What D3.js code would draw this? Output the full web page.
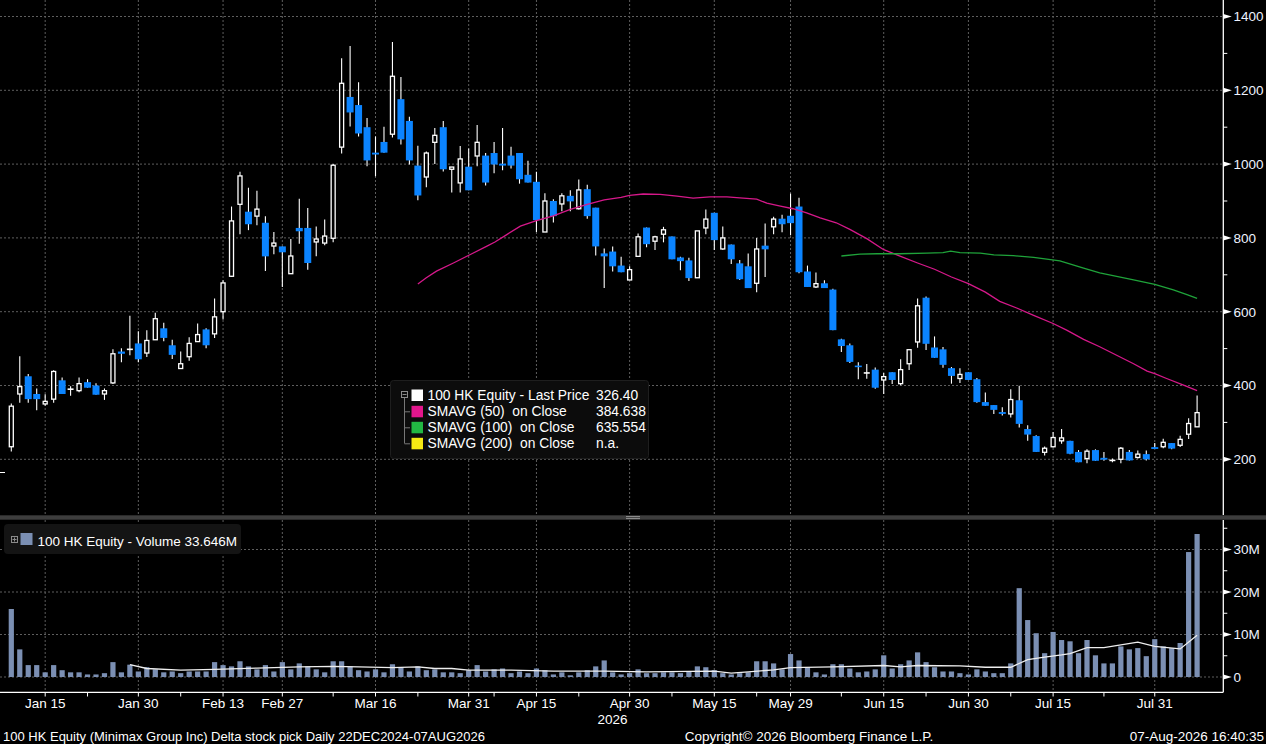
<!DOCTYPE html>
<html>
<head>
<meta charset="utf-8">
<script src="https://cdnjs.cloudflare.com/ajax/libs/d3/7.8.5/d3.min.js"></script>
<style>
body { margin: 0; background: #000; }
svg { display: block; font-family: "Liberation Sans", Arial, sans-serif; }
</style>
</head>
<body>
<svg id="chart" width="1266" height="744"></svg>
<script>
// daily candles, one per trading day (index 0 = first bar on the left)
var opens = [234,377,425,377,350,363,414,390,386,409,400,377,407,492,498,514,488,524,555,509,446,478,519,552,540,600,696,891,871,859,841,778,777,703,827,827,789,
  786,799,1046,1182,1160,1100,1031,1060,1081,1176,1117,996,965,1059,1100,986,949,993,1022,1023,1030,1001,1023,1030,971,952,816,900,892,914,879,932,882,758,763,725,
  686,750,828,791,810,804,747,739,692,827,868,770,782,731,723,677,779,830,852,860,885,709,667,677,
  660,525,509,454,434,443,415,436,405,459,518,638,503,498,447,419,436,417,355,347,328,323,360,282,263,219,234,
  250,250,220,202,225,204,197,200,220,205,214,233,234,244,238,268,288];
var highs = [351,479,431,392,376,441,422,398,422,417,406,392,498,501,589,547,550,597,570,524,492,531,568,555,636,685,885,979,936,928,859,816,777,797,906,881,831,
  850,1000,1287,1320,1222,1125,1075,1101,1331,1236,1128,1050,1034,1098,1117,992,1049,1042,1106,1030,1060,1098,1047,1030,1009,979,921,905,921,929,958,944,882,771,777,749,
  723,812,828,806,830,804,749,746,819,877,868,831,782,740,758,800,839,857,863,920,909,725,706,685,
  662,527,514,463,458,449,434,436,471,497,636,641,533,504,450,447,436,420,381,347,341,390,399,292,265,235,274,
  282,250,225,227,227,220,202,233,225,224,224,244,256,244,264,311,373];
var lows = [221,353,353,333,345,353,377,372,382,394,375,361,404,463,482,463,477,524,520,472,446,467,519,501,529,579,694,810,821,834,710,756,667,703,784,714,750,
  780,788,1029,1102,1075,994,967,1031,1072,1053,999,902,937,1000,980,923,923,929,994,942,975,983,988,947,950,816,816,842,872,872,877,852,752,664,709,707,
  686,750,775,767,788,742,712,683,692,810,767,768,729,686,664,653,694,810,815,807,704,667,664,664,
  550,491,461,417,418,391,377,404,401,442,502,496,475,448,405,407,415,353,345,323,319,313,286,250,220,210,232,
  242,214,192,189,196,196,192,189,197,202,197,228,230,227,233,255,288];
var closes = [344,397,363,363,357,438,377,390,405,394,375,386,486,486,498,471,522,581,529,483,459,514,538,509,586,678,846,968,837,878,750,786,761,751,818,732,797,
  805,997,1219,1140,1083,1010,1026,1031,1238,1067,1010,915,1030,1078,986,992,1014,929,1059,950,999,996,996,959,950,848,900,859,914,899,930,859,777,750,723,707,
  714,803,783,803,822,742,737,691,819,851,794,800,742,688,664,770,769,851,837,840,707,667,676,664,
  550,507,464,450,434,394,424,415,443,497,616,513,475,456,426,430,415,355,345,334,323,362,296,267,220,230,259,
  258,215,192,222,196,199,197,230,197,214,200,228,246,229,254,297,326.4];
// volume in millions
var volumes = [16.0,6.5,2.8,2.8,1.1,2.8,1.6,1.1,1.1,0.6,0.6,0.9,3.5,1.1,2.9,1.3,2.3,1.8,1.1,1.3,0.9,1.3,1.3,1.3,3.5,2.8,2.5,3.7,2.5,1.8,
  2.8,1.3,3.5,1.8,3.2,2.5,1.8,1.1,3.7,3.7,2.5,1.6,1.3,1.8,1.1,3.0,2.3,1.3,2.5,1.6,1.8,1.1,1.1,0.9,1.6,2.8,1.3,1.8,2.0,0.9,
  1.3,0.9,2.0,1.6,0.6,1.1,0.4,1.1,1.6,2.5,3.9,1.1,0.6,0.9,1.8,0.9,0.9,1.1,1.1,0.9,1.3,2.5,2.3,1.6,0.9,0.6,0.9,1.1,3.7,3.7,
  3.2,1.8,5.4,3.9,2.3,1.1,0.6,3.0,3.0,2.0,1.1,1.3,1.8,5.1,2.0,3.0,3.9,5.8,3.5,2.3,1.3,1.3,0.9,0.6,1.8,1.3,0.9,0.9,3.2,20.9,
  13.4,10.3,5.6,10.6,8.7,8.4,5.6,8.7,5.1,3.2,3.2,7.2,6.5,6.8,4.9,8.9,7.2,6.8,8.0,29.4,33.646];

// moving averages (bar index, value)
var sma50Idx = [48,49,50.2,52.2,54.2,56.1,57.1,58.5,60.1,62,64,66,68,70,72,73,74.6,76.6,78.6,80.5,82.5,84.5,86.4,88,89.2,90.8,92.3,93.9,95.5,97.4,99,101,103,105,107,109,111,113,115,116.7,118.7,120.7,123,124.6,126.6,128.5,130.5,132.5,134.1,135,136.4,138.4,140];
var sma50Val = [675,692,710,732,755,777,789,809,832,847,860,877,891,903,910,915,919,918,913,908,911,911,908,905,894,886,879,868,854,841,823,798,768,750,732,715,694,676,653,628,610,590,568,550,525,505,482,459,439,432,419,401,386];
var sma100Idx = [98,100.2,102.2,104.9,108.1,110,110.9,112,114.4,116,118.3,120.7,123.8,126.6,128.5,130.5,132.5,135,137.2,138.8,140];
var sma100Val = [751,756,757,757,759,760,764,760,759,754,752,747,738,718,705,696,686,674,659,646,636];
var volAvgIdx = [14,16,20,24,29,34,38,41,45,48,50,52,54,59,64,70,75,80,83,85,87,90,92,97,103,105,107,112,115,118,120,122,124,125,127,129,133,135,138,140];
var volAvgVal = [2.9,2.0,1.6,1.8,2.1,2.4,2.5,2.4,2.2,2.4,2.0,2.0,1.6,1.6,1.4,1.4,1.2,1.3,1.4,0.9,1.2,1.7,2.2,2.4,2.7,2.4,2.7,2.6,2.3,2.3,4.1,4.7,5.2,5.5,6.9,6.9,8.2,7.2,6.6,9.8];

// axis ticks
var xTickLabels = ["Jan 15","Jan 30","Feb 13","Feb 27","Mar 16","Mar 31","Apr 15","Apr 30","May 15","May 29","Jun 15","Jun 30","Jul 15","Jul 31"];
var xTickIdx = [4,15,25,32,43,54,62,73,83,92,103,113,123,135];
var xMinorIdx = [9,20,38,48,57,67,78,88,98,108,118,129];
var priceTicks = [200,400,600,800,1000,1200,1400];
var priceMinor = [300,500,700,900,1100,1300];
var volTicks = [0,10,20,30];
var volTickLabels = ["0","10M","20M","30M"];
var volMinor = [5,15,25,35];

var legendLabels = ["100 HK Equity - Last Price", "SMAVG (50)  on Close", "SMAVG (100)  on Close", "SMAVG (200)  on Close"];
var legendValues = ["326.40", "384.638", "635.554", "n.a."];
var legendColors = ["#ffffff", "#e3168d", "#22b843", "#f5ea14"];

var UP = "#ffffff", DOWN = "#0b84ff", GRID = "#5e5e5e";
var axisX = 1223.3;

var svg = d3.select("#chart");
svg.append("rect").attr("width", 1266).attr("height", 744).attr("fill", "#000");

var x = d3.scaleLinear().domain([0, 140]).range([11.3, 1197.1]);
var yP = d3.scaleLinear().domain([200, 1400]).range([459.3, 16.5]);
var yV = d3.scaleLinear().domain([0, 30]).range([677, 549.5]);

// grid
var grid = svg.append("g").attr("stroke", GRID).attr("stroke-dasharray", "2,2").attr("stroke-width", 1);
grid.selectAll("line.hp").data(priceTicks).enter().append("line")
    .attr("x1", 0).attr("x2", axisX)
    .attr("y1", function(d) { return yP(d); }).attr("y2", function(d) { return yP(d); });
grid.selectAll("line.hv").data(volTicks).enter().append("line")
    .attr("x1", 0).attr("x2", axisX)
    .attr("y1", function(d) { return yV(d); }).attr("y2", function(d) { return yV(d); });
grid.selectAll("line.vp").data(xTickIdx).enter().append("line")
    .attr("x1", function(d) { return x(d); }).attr("x2", function(d) { return x(d); })
    .attr("y1", 0).attr("y2", 515);
grid.selectAll("line.vv").data(xTickIdx).enter().append("line")
    .attr("x1", function(d) { return x(d); }).attr("x2", function(d) { return x(d); })
    .attr("y1", 520).attr("y2", 692);

// price legend box (under the marks like in the terminal)
var lg = svg.append("g");
lg.append("rect").attr("x", 390.5).attr("y", 380.5).attr("width", 258).attr("height", 78)
    .attr("rx", 3).attr("fill", "#0c0c0c").attr("stroke", "#1e1e1e");

// candles
var bars = d3.range(opens.length).map(function(i) {
  return { i: i, o: opens[i], h: highs[i], l: lows[i], c: closes[i] };
});
var cg = svg.append("g");
cg.selectAll("line.wick").data(bars).enter().append("line")
    .attr("x1", function(d) { return x(d.i); }).attr("x2", function(d) { return x(d.i); })
    .attr("y1", function(d) { return yP(d.h); }).attr("y2", function(d) { return yP(d.l); })
    .attr("stroke", "#fff").attr("stroke-width", 1.1);
cg.selectAll("rect.down").data(bars.filter(function(d) { return d.c < d.o; })).enter().append("rect")
    .attr("x", function(d) { return x(d.i) - 3.5; })
    .attr("y", function(d) { return yP(d.o); })
    .attr("width", 7)
    .attr("height", function(d) { return Math.max(1.6, yP(d.c) - yP(d.o)); })
    .attr("fill", DOWN);
cg.selectAll("rect.up").data(bars.filter(function(d) { return d.c > d.o; })).enter().append("rect")
    .attr("x", function(d) { return x(d.i) - 2; })
    .attr("y", function(d) { return yP(d.c); })
    .attr("width", 4)
    .attr("height", function(d) { return Math.max(1, yP(d.o) - yP(d.c)); })
    .attr("fill", "#000").attr("stroke", UP).attr("stroke-width", 1.3);
cg.selectAll("line.doji").data(bars.filter(function(d) { return d.c == d.o; })).enter().append("line")
    .attr("x1", function(d) { return x(d.i) - 3; }).attr("x2", function(d) { return x(d.i) + 3; })
    .attr("y1", function(d) { return yP(d.c); }).attr("y2", function(d) { return yP(d.c); })
    .attr("stroke", "#fff").attr("stroke-width", 1.6);

// moving averages
var priceLine = d3.line().x(function(d) { return x(d[0]); }).y(function(d) { return yP(d[1]); });
svg.append("path").datum(d3.zip(sma50Idx, sma50Val)).attr("d", priceLine)
    .attr("fill", "none").attr("stroke", "#d6188a").attr("stroke-width", 1.3);
svg.append("path").datum(d3.zip(sma100Idx, sma100Val)).attr("d", priceLine)
    .attr("fill", "none").attr("stroke", "#1fa33a").attr("stroke-width", 1.3);

// legend content
var rowY = [395, 411.3, 427.3, 443.3];
lg.append("rect").attr("x", 401.5).attr("y", 391.5).attr("width", 6).attr("height", 6)
    .attr("fill", "none").attr("stroke", "#8a8a8a");
lg.append("line").attr("x1", 402.5).attr("x2", 406.5).attr("y1", 394.5).attr("y2", 394.5).attr("stroke", "#8a8a8a");
lg.append("line").attr("x1", 404.5).attr("x2", 404.5).attr("y1", 398).attr("y2", 443.5).attr("stroke", "#777");
lg.selectAll("line.br").data(rowY.slice(1)).enter().append("line")
    .attr("x1", 404.5).attr("x2", 410).attr("y1", function(d) { return d + 0.5; }).attr("y2", function(d) { return d + 0.5; })
    .attr("stroke", "#777");
lg.selectAll("rect.sw").data(legendColors).enter().append("rect")
    .attr("x", 411.5).attr("y", function(d, i) { return rowY[i] - 5.5; })
    .attr("width", 11.5).attr("height", 11.5).attr("fill", function(d) { return d; });
lg.selectAll("text.lab").data(legendLabels).enter().append("text")
    .attr("x", 427.5).attr("y", function(d, i) { return rowY[i] + 4.7; })
    .attr("fill", "#fff").attr("font-size", 13.8).attr("xml:space", "preserve")
    .style("white-space", "pre").text(function(d) { return d; });
lg.selectAll("text.val").data(legendValues).enter().append("text")
    .attr("x", 596).attr("y", function(d, i) { return rowY[i] + 4.7; })
    .attr("fill", "#fff").attr("font-size", 13.8).text(function(d) { return d; });

// panel separator
svg.append("rect").attr("x", 0).attr("y", 515.3).attr("width", 1266).attr("height", 4.4).attr("fill", "#3d3d3d");
svg.selectAll("line.grip").data([516.6, 518.6]).enter().append("line")
    .attr("x1", 626).attr("x2", 640).attr("y1", function(d) { return d; }).attr("y2", function(d) { return d; })
    .attr("stroke", "#aaa").attr("stroke-width", 0.8);

// volume bars
svg.append("g").selectAll("rect").data(volumes).enter().append("rect")
    .attr("x", function(d, i) { return x(i) - 2.6; })
    .attr("y", function(d) { return yV(d); })
    .attr("width", 5.2)
    .attr("height", function(d) { return yV(0) - yV(d); })
    .attr("fill", "#7b8fb3");
svg.append("path").datum(d3.zip(volAvgIdx, volAvgVal))
    .attr("d", d3.line().x(function(d) { return x(d[0]); }).y(function(d) { return yV(d[1]); }))
    .attr("fill", "none").attr("stroke", "#eeeeee").attr("stroke-width", 1.3);

// volume legend
var vl = svg.append("g");
vl.append("rect").attr("x", 4).attr("y", 524).attr("width", 237).attr("height", 30).attr("rx", 4).attr("fill", "#141414");
vl.append("rect").attr("x", 11.5).attr("y", 536.5).attr("width", 6).attr("height", 6).attr("fill", "none").attr("stroke", "#8a8a8a");
vl.append("line").attr("x1", 12.5).attr("x2", 16.5).attr("y1", 539.5).attr("y2", 539.5).attr("stroke", "#8a8a8a");
vl.append("line").attr("x1", 14.5).attr("x2", 14.5).attr("y1", 537.5).attr("y2", 541.5).attr("stroke", "#8a8a8a");
vl.append("rect").attr("x", 20.5).attr("y", 533).attr("width", 12).attr("height", 12).attr("fill", "#7b8fb3");
vl.append("text").attr("x", 37.5).attr("y", 545.5).attr("fill", "#fff").attr("font-size", 13.5)
    .text("100 HK Equity - Volume 33.646M");

// right axes
var ax = svg.append("g");
ax.append("line").attr("x1", axisX).attr("x2", axisX).attr("y1", 0).attr("y2", 515).attr("stroke", "#fff").attr("stroke-width", 1.3);
ax.append("line").attr("x1", axisX).attr("x2", axisX).attr("y1", 520).attr("y2", 692.3).attr("stroke", "#fff").attr("stroke-width", 1.3);
function flag(sel, yPos) {
  sel.append("path")
    .attr("d", function(d) { var y = yPos(d); return "M" + axisX + "," + (y - 2.6) + "L" + (axisX + 8.5) + "," + y + "L" + axisX + "," + (y + 2.6) + "Z"; })
    .attr("fill", "#fff");
}
var pt = ax.selectAll("g.pt").data(priceTicks).enter().append("g");
flag(pt, yP);
pt.append("text").attr("x", 1233.5).attr("y", function(d) { return yP(d) + 4.8; })
    .attr("fill", "#eef3ff").attr("font-size", 13.5).text(function(d) { return d; });
ax.selectAll("line.pm").data(priceMinor).enter().append("line")
    .attr("x1", axisX).attr("x2", axisX + 4).attr("y1", function(d) { return yP(d); }).attr("y2", function(d) { return yP(d); })
    .attr("stroke", "#fff");
var vt = ax.selectAll("g.vt").data(volTicks).enter().append("g");
flag(vt, yV);
vt.append("text").attr("x", 1233.5).attr("y", function(d) { return yV(d) + 4.8; })
    .attr("fill", "#eef3ff").attr("font-size", 13.5).text(function(d, i) { return volTickLabels[i]; });
ax.selectAll("line.vm").data(volMinor).enter().append("line")
    .attr("x1", axisX).attr("x2", axisX + 4).attr("y1", function(d) { return yV(d); }).attr("y2", function(d) { return yV(d); })
    .attr("stroke", "#fff");

// small marker on the left edge
svg.append("line").attr("x1", 0).attr("x2", 5).attr("y1", 472.5).attr("y2", 472.5).attr("stroke", "#fff");

// bottom date axis
var bx = svg.append("g");
bx.append("line").attr("x1", 0).attr("x2", axisX).attr("y1", 692.3).attr("y2", 692.3).attr("stroke", "#fff").attr("stroke-width", 1.3);
bx.selectAll("line.t").data(xTickIdx.concat(xMinorIdx)).enter().append("line")
    .attr("x1", function(d) { return x(d); }).attr("x2", function(d) { return x(d); })
    .attr("y1", 692.3).attr("y2", 696.5).attr("stroke", "#fff");
bx.selectAll("text").data(xTickLabels).enter().append("text")
    .attr("x", function(d, i) { return x(xTickIdx[i]); }).attr("y", 708)
    .attr("text-anchor", "middle").attr("fill", "#fff").attr("font-size", 13.5)
    .text(function(d) { return d; });
bx.append("text").attr("x", 612.5).attr("y", 723.5).attr("text-anchor", "middle")
    .attr("fill", "#fff").attr("font-size", 13.5).text("2026");

// footer
svg.append("text").attr("x", 3).attr("y", 740.5).attr("fill", "#fff").attr("font-size", 13)
    .text("100 HK Equity (Minimax Group Inc) Delta stock pick Daily 22DEC2024-07AUG2026");
svg.append("text").attr("x", 809).attr("y", 740.5).attr("text-anchor", "middle").attr("fill", "#fff").attr("font-size", 13.5)
    .text("Copyright\u00a9 2026 Bloomberg Finance L.P.");
svg.append("text").attr("x", 1264).attr("y", 740.5).attr("text-anchor", "end").attr("fill", "#fff").attr("font-size", 13.5)
    .text("07-Aug-2026 16:40:35");
</script>
</body>
</html>
